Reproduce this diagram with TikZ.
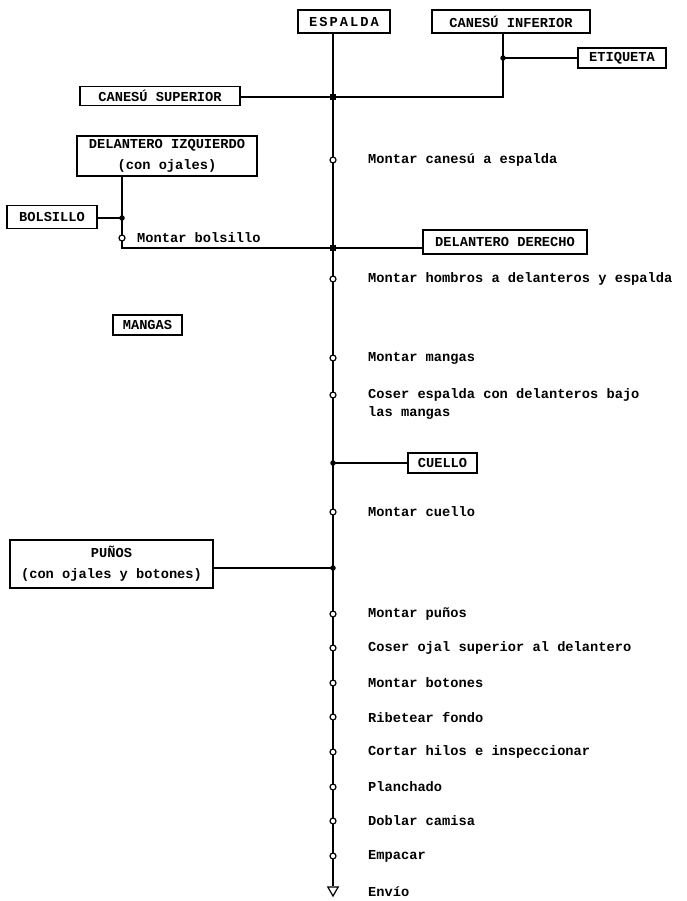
\documentclass[tikz,border=0pt]{standalone}
\usepackage{fontspec}
\setmonofont{Liberation Mono}
\usetikzlibrary{shapes.geometric}
\begin{document}
\begin{tikzpicture}[x=1pt,y=-1pt,
  every node/.style={font=\ttfamily\bfseries\fontsize{13.7}{21}\selectfont},
  lbl/.style={draw,line width=1.3pt,inner sep=0pt,align=center},
  optext/.style={anchor=west,inner sep=0pt},
  opmark/.style={circle,draw,fill=white,line width=1.2pt,inner sep=0pt,minimum size=6pt},
  jdot/.style={circle,fill=black,inner sep=0pt,minimum size=5.5pt},
  jsq/.style={rectangle,fill=black,inner sep=0pt,minimum size=6.5pt},
  endmark/.style={regular polygon,regular polygon sides=3,shape border rotate=180,draw,fill=white,line width=1.2pt,inner sep=0pt,minimum size=12pt},
  conn/.style={line width=1.4pt}]
\useasboundingbox (0,0) rectangle (686,901);

% boxes
\node[lbl,minimum width=92pt,minimum height=23pt] (espalda) at (344,21.5) {\addfontfeature{LetterSpace=15}ESPALDA};
\node[lbl,minimum width=158pt,minimum height=23pt] (caninf) at (511,21.5) {CANESÚ INFERIOR};
\node[lbl,minimum width=88pt,minimum height=20pt] (etiq) at (622,58) {ETIQUETA};
\node[lbl,minimum width=160pt,minimum height=19pt] (cansup) at (160,96) {CANESÚ SUPERIOR};
\node[lbl,minimum width=180pt,minimum height=40pt] (delizq) at (167,156) {DELANTERO IZQUIERDO\\(con ojales)};
\node[lbl,minimum width=90pt,minimum height=23pt] (bolsillo) at (52,217) {BOLSILLO};
\node[lbl,minimum width=164pt,minimum height=24pt] (delder) at (505,242) {DELANTERO DERECHO};
\node[lbl,minimum width=69pt,minimum height=20pt] (mangas) at (147.5,325) {MANGAS};
\node[lbl,minimum width=69pt,minimum height=20pt] (cuello) at (442.5,463) {CUELLO};
\node[lbl,minimum width=203pt,minimum height=48pt] (punos) at (111.5,564) {PUÑOS\\(con ojales y botones)};

% junction coordinates
\coordinate (j1) at (333,97);
\coordinate (j2) at (333,248);
\coordinate (j3) at (333,463);
\coordinate (j4) at (333,568);
\coordinate (ci) at (503,97);
\coordinate (ce) at (503,58);
\coordinate (lb) at (122,218);
\coordinate (lc) at (122,248);

% end marker
\node[endmark] (env) at (333,890) {};

% main line
\draw[conn] (espalda.south -| env) -- (env.north);

% top branches
\draw[conn] (cansup.east |- j1) -- (j1);
\draw[conn] (caninf.south -| ci) -- (ci) -- (j1);
\draw[conn] (etiq.west) -- (ce);
% left branch
\draw[conn] (delizq.south -| lb) -- (lc) -- (j2);
\draw[conn] (bolsillo.east |- lb) -- (lb);
% right branch
\draw[conn] (delder.west |- j2) -- (j2);
\draw[conn] (cuello.west) -- (j3);
\draw[conn] (punos.east |- j4) -- (j4);

% junction marks
\node[jsq] (k1) at (j1) {};
\node[jsq] (k2) at (j2) {};
\node[jdot] (k3) at (j3) {};
\node[jdot] (k4) at (j4) {};
\node[jdot] (k5) at (ce) {};
\node[jdot] (k6) at (lb) {};

% operation markers
\node[opmark] (obol) at (122,238) {};
\node[opmark] (o1) at (333,160) {};
\node[opmark] (o2) at (333,279) {};
\node[opmark] (o3) at (333,358) {};
\node[opmark] (o4) at (333,395) {};
\node[opmark] (o5) at (333,512) {};
\node[opmark] (o6) at (333,614) {};
\node[opmark] (o7) at (333,648) {};
\node[opmark] (o8) at (333,683) {};
\node[opmark] (o9) at (333,717) {};
\node[opmark] (o10) at (333,752) {};
\node[opmark] (o11) at (333,787) {};
\node[opmark] (o12) at (333,821) {};
\node[opmark] (o13) at (333,856) {};

% operation texts
\node[optext] (tbol) at (137,238) {Montar bolsillo};
\node[optext] (t1) at (368,160) {Montar canesú a espalda};
\node[optext] (t2) at (368,279) {Montar hombros a delanteros y espalda};
\node[optext] (t3) at (368,358) {Montar mangas};
\node[optext,align=left,font=\ttfamily\bfseries\fontsize{13.7}{18}\selectfont] (t4) at (368,404) {Coser espalda con delanteros bajo\\las mangas};
\node[optext] (t5) at (368,512) {Montar cuello};
\node[optext] (t6) at (368,614) {Montar puños};
\node[optext] (t7) at (368,648) {Coser ojal superior al delantero};
\node[optext] (t8) at (368,683) {Montar botones};
\node[optext] (t9) at (368,717) {Ribetear fondo};
\node[optext] (t10) at (368,752) {Cortar hilos e inspeccionar};
\node[optext] (t11) at (368,787) {Planchado};
\node[optext] (t12) at (368,821) {Doblar camisa};
\node[optext] (t13) at (368,856) {Empacar};
\node[optext] (t14) at (368,892) {Envío};
\end{tikzpicture}
\end{document}
